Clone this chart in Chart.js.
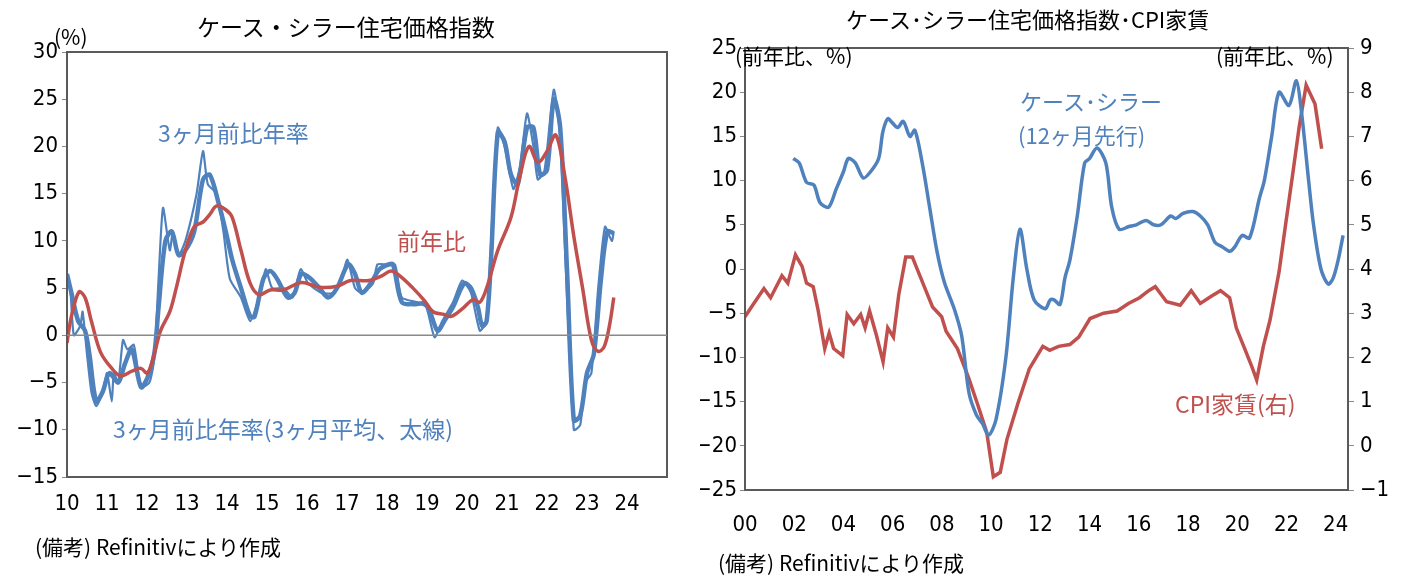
<!DOCTYPE html>
<html><head><meta charset="utf-8">
<script src="https://cdn.jsdelivr.net/npm/chart.js@4"></script>
<style>
body{margin:0;width:1402px;height:584px;background:#fff;position:relative;overflow:hidden;font-family:"Noto Sans CJK JP",sans-serif}
.t{position:absolute;white-space:nowrap;line-height:1}
canvas{position:absolute}
</style></head><body>
<canvas id="c1" style="left:0;top:0"></canvas>
<canvas id="c2" style="left:700px;top:0"></canvas>
<div class="t" style="left:197px;top:15px;font-size:23px">ケース・シラー住宅価格指数</div>
<div class="t" style="left:54px;top:26px;font-size:21px">(%)</div>
<div class="t" style="left:158px;top:121px;font-size:23px;color:#4F81BD">3ヶ月前比年率</div>
<div class="t" style="left:397px;top:229px;font-size:23px;color:#C0504D">前年比</div>
<div class="t" style="left:113px;top:417px;font-size:23px;color:#4F81BD">3ヶ月前比年率(3ヶ月平均、太線)</div>
<div class="t" style="left:35px;top:536px;font-size:21px">(備考) Refinitivにより作成</div>
<div class="t" style="left:846px;top:7px;font-size:22px">ケース･シラー住宅価格指数･CPI家賃</div>
<div class="t" style="left:735px;top:45px;font-size:21px">(前年比、%)</div>
<div class="t" style="left:1216px;top:45px;font-size:21px">(前年比、%)</div>
<div class="t" style="left:1020px;top:89px;font-size:22px;color:#4F81BD">ケース･シラー</div>
<div class="t" style="left:1018px;top:123px;font-size:22px;color:#4F81BD">(12ヶ月先行)</div>
<div class="t" style="left:1175px;top:392px;font-size:23px;color:#C0504D">CPI家賃(右)</div>
<div class="t" style="left:718px;top:552px;font-size:21px">(備考) Refinitivにより作成</div>
<script>
// ---- Left chart data ----
const redYears=[2010.0,2010.11,2010.30,2010.45,2010.61,2010.84,2011.12,2011.34,2011.62,2011.85,2012.01,2012.18,2012.34,2012.57,2012.73,2012.96,2013.18,2013.40,2013.57,2013.74,2013.97,2014.13,2014.35,2014.58,2014.80,2015.08,2015.41,2015.86,2016.31,2016.75,2017.09,2017.54,2017.87,2018.10,2018.32,2018.65,2018.93,2019.15,2019.43,2019.60,2019.88,2020.16,2020.32,2020.49,2020.77,2021.10,2021.33,2021.55,2021.77,2022.00,2022.22,2022.44,2022.67,2022.89,2023.11,2023.28,2023.43,2023.56,2023.67];
const redYoY=[-0.8,2,4.6,4,1.5,-1.8,-3.5,-4.3,-3.8,-3.5,-4,-2,0.5,2.5,5,9,11.5,12,12.8,13.7,13.3,12.5,9,5.5,4.3,4.8,4.8,5.6,5.1,5.2,5.8,5.8,6.3,6.8,6.3,5,3.7,2.5,2.2,2,2.8,3.8,3.5,5,9,12.5,17,20,18.3,19.5,21.2,17,10.5,5,-0.5,-1.7,-1.2,1,4];
const thickYears=[2010.0,2010.11,2010.28,2010.45,2010.56,2010.73,2010.89,2011.06,2011.28,2011.45,2011.62,2011.85,2012.01,2012.18,2012.29,2012.46,2012.62,2012.79,2012.96,2013.18,2013.40,2013.57,2013.79,2013.97,2014.13,2014.35,2014.58,2014.69,2014.91,2015.08,2015.25,2015.52,2015.69,2015.86,2016.09,2016.31,2016.53,2016.75,2017.03,2017.20,2017.37,2017.59,2017.81,2018.04,2018.15,2018.37,2018.65,2018.98,2019.26,2019.43,2019.65,2019.93,2020.10,2020.27,2020.38,2020.49,2020.60,2020.77,2020.94,2021.10,2021.27,2021.50,2021.66,2021.83,2022.00,2022.17,2022.33,2022.50,2022.67,2022.83,2023.00,2023.17,2023.35,2023.51,2023.67];
const thick3m=[6.5,4.5,1.5,0.5,-2,-7,-6,-4,-5,-3,-1.5,-5.5,-4.5,-2,3,10,11,8.5,9,11,16.5,17,14,11,8,5,2,2,6,6.8,6,4,4.5,6.5,6,5,4,5,7.5,6.5,4.5,5.5,7,7.5,7.5,3.5,3.3,3.3,0.5,1.5,3,5.5,5,3,1,1.5,8,21.5,20.5,17,16,22,22,17,17.5,25,22,7,-9,-8.5,-4,-2,6,11,10.8];
const thinYears=[2010.0,2010.08,2010.17,2010.33,2010.39,2010.50,2010.61,2010.73,2010.89,2011.00,2011.12,2011.17,2011.28,2011.40,2011.51,2011.67,2011.85,2012.06,2012.18,2012.29,2012.40,2012.57,2012.65,2012.79,2012.96,2013.24,2013.40,2013.52,2013.74,2013.91,2014.07,2014.35,2014.58,2014.80,2014.97,2015.13,2015.41,2015.64,2015.84,2016.03,2016.36,2016.64,2016.86,2017.01,2017.20,2017.37,2017.65,2017.76,2017.98,2018.20,2018.37,2018.76,2018.98,2019.19,2019.38,2019.65,2019.88,2020.10,2020.32,2020.49,2020.66,2020.77,2020.94,2021.16,2021.33,2021.50,2021.66,2021.77,2021.94,2022.17,2022.33,2022.44,2022.67,2022.83,2022.95,2023.11,2023.28,2023.45,2023.62,2023.67];
const thin3m=[6,5,0,1,2.5,-2,-6,-7.5,-6,-4,-7,-4,-5,-0.5,-1.5,-1,-5.5,-5,-2.5,6,13.5,9,11,8.5,10,15,19.5,16,15,11,6,4,1.5,4,7,5,5,4,7,5.5,4.5,4.5,6,8,5,4.5,5.5,7.5,7.5,7.5,4,3.5,3,-0.2,1.5,3.5,5.8,4.5,0.5,1.5,15,22,20,15.5,18,23.5,20,16.5,17.5,26,21,10,-10,-9.5,-5,-4,5,11.5,10,11];
// ---- Right chart data ----
const csYears=[2001.96,2002.2,2002.5,2002.8,2003.05,2003.4,2003.7,2004.0,2004.2,2004.48,2004.8,2005.1,2005.43,2005.6,2005.8,2006.0,2006.2,2006.43,2006.7,2006.9,2007.2,2007.5,2007.8,2008.1,2008.5,2008.8,2009.1,2009.4,2009.65,2009.9,2010.2,2010.6,2010.9,2011.17,2011.45,2011.75,2012.2,2012.4,2012.56,2012.8,2013.0,2013.2,2013.5,2013.8,2014.0,2014.3,2014.66,2014.9,2015.2,2015.6,2015.9,2016.3,2016.6,2016.9,2017.3,2017.5,2017.8,2018.2,2018.5,2018.8,2019.1,2019.4,2019.7,2019.9,2020.2,2020.5,2020.9,2021.1,2021.4,2021.7,2022.1,2022.4,2022.6,2022.9,2023.1,2023.4,2023.7,2023.9,2024.1,2024.3];
const csLead=[12.5,12,9.8,9.5,7.5,7,9,11,12.5,12,10.3,11,12.5,15.5,17,16.5,16,16.7,15,15.7,12,7,2,-1.5,-4.5,-7.5,-14,-16.5,-17.5,-18.8,-17,-10,-1,4.5,0,-3.5,-4.5,-3.5,-3.5,-4,-1,1,6,12,12.5,13.7,12,7,4.5,4.8,5,5.5,5,5,6,5.7,6.3,6.5,6,5,3,2.5,2,2.5,3.8,3.5,8,10,15,20,18.5,21.3,18,10,5,0,-1.7,-1,1,3.8];
const cpiYears=[2000.0,2000.31,2000.77,2001.04,2001.5,2001.74,2002.05,2002.32,2002.5,2002.77,2002.96,2003.24,2003.42,2003.6,2003.97,2004.15,2004.42,2004.7,2004.88,2005.06,2005.34,2005.61,2005.8,2006.03,2006.25,2006.53,2006.8,2006.98,2007.35,2007.62,2007.99,2008.17,2008.63,2009.09,2009.45,2009.82,2010.09,2010.37,2010.64,2011.1,2011.55,2012.1,2012.38,2012.74,2013.2,2013.56,2014.02,2014.57,2015.12,2015.58,2016.03,2016.4,2016.67,2017.13,2017.68,2018.13,2018.5,2018.96,2019.32,2019.69,2019.96,2020.33,2020.6,2020.79,2021.06,2021.33,2021.7,2021.97,2022.25,2022.52,2022.8,2023.16,2023.43];
const cpiRent=[2.92,3.18,3.56,3.35,3.85,3.68,4.32,4.06,3.68,3.6,3.1,2.2,2.55,2.2,2.04,2.97,2.76,2.97,2.67,3.05,2.5,1.9,2.67,2.46,3.43,4.27,4.27,4.02,3.51,3.14,2.92,2.59,2.2,1.53,0.94,0.31,-0.7,-0.6,0.14,0.98,1.74,2.25,2.16,2.25,2.29,2.46,2.88,3.0,3.05,3.22,3.35,3.51,3.6,3.26,3.18,3.51,3.22,3.39,3.51,3.35,2.67,2.16,1.78,1.49,2.25,2.84,3.94,5.03,6.13,7.23,8.16,7.73,6.72];
const leftTicks=[2010,2011,2012,2013,2014,2015,2016,2017,2018,2019,2020,2021,2022,2023,2024];
const rightTicks=[2000,2002,2004,2006,2008,2010,2012,2014,2016,2018,2020,2022,2024];

const BLUE='#4F81BD', RED='#C0504D', GRAY='#898989';
const pts=(xs,ys)=>xs.map((x,i)=>({x:x,y:ys[i]}));
const tickFont={family:'"DejaVu Sans Condensed","Liberation Sans Narrow",sans-serif',size:22};
const frame={id:'frame',afterDraw(c,a,o){const {ctx,chartArea:ca}=c;ctx.save();ctx.strokeStyle='#5a5a5a';ctx.lineWidth=2;ctx.strokeRect(ca.left,ca.top,ca.right-ca.left,ca.bottom-ca.top);
 if(o.zero){const y=c.scales.y.getPixelForValue(0);ctx.strokeStyle=GRAY;ctx.lineWidth=1.5;ctx.beginPath();ctx.moveTo(ca.left,y);ctx.lineTo(ca.right,y);ctx.stroke();}ctx.restore();}};

function setup(id,w,h){const cv=document.getElementById(id);cv.width=w;cv.height=h;cv.style.width=w+'px';cv.style.height=h+'px';return cv;}

new Chart(setup('c1',700,540),{type:'line',
 data:{datasets:[
  {data:pts(redYears,redYoY),borderColor:RED,borderWidth:3.5,pointRadius:0,tension:0.35},
  {data:pts(thinYears,thin3m),borderColor:BLUE,borderWidth:2.2,pointRadius:0,tension:0.2},
  {data:pts(thickYears,thick3m),borderColor:BLUE,borderWidth:4.5,pointRadius:0,tension:0.3}
 ]},
 options:{responsive:false,animation:false,devicePixelRatio:1,
  layout:{padding:{top:52,right:33}},
  plugins:{legend:{display:false},tooltip:{enabled:false},frame:{zero:true}},
  scales:{
   x:{type:'linear',min:2010,max:2025,afterFit(s){s.height=63;},
      afterBuildTicks(s){s.ticks=leftTicks.map(v=>({value:v}));},
      ticks:{color:'#000',font:tickFont,maxRotation:0,autoSkip:false,padding:6,callback:v=>String(v%100)},
      grid:{display:false},border:{display:false}},
   y:{min:-15,max:30,afterFit(s){s.width=67;},
      ticks:{stepSize:5,color:'#000',font:tickFont,padding:4,callback:v=>v<0?'−'+(-v):String(v)},
      grid:{drawOnChartArea:false,tickLength:5,color:GRAY},border:{display:false}}
  }},
 plugins:[frame]});

new Chart(setup('c2',702,550),{type:'line',
 data:{datasets:[
  {data:pts(csYears,csLead),borderColor:BLUE,borderWidth:3.5,pointRadius:0,tension:0.3,yAxisID:'y'},
  {data:pts(cpiYears,cpiRent),borderColor:RED,borderWidth:3.5,pointRadius:0,tension:0,yAxisID:'y2'}
 ]},
 options:{responsive:false,animation:false,devicePixelRatio:1,
  layout:{padding:{top:48}},
  plugins:{legend:{display:false},tooltip:{enabled:false},frame:{zero:false}},
  scales:{
   x:{type:'linear',min:2000,max:2024.5,afterFit(s){s.height=60;},
      afterBuildTicks(s){s.ticks=rightTicks.map(v=>({value:v}));},
      ticks:{color:'#000',font:tickFont,maxRotation:0,autoSkip:false,padding:14,callback:v=>String(v%100).padStart(2,'0')},
      grid:{display:false},border:{display:false}},
   y:{position:'left',min:-25,max:25,afterFit(s){s.width=45;},
      ticks:{stepSize:5,color:'#000',font:tickFont,padding:3,callback:v=>v<0?'−'+(-v):String(v)},
      grid:{drawOnChartArea:false,tickLength:5,color:GRAY},border:{display:false}},
   y2:{position:'right',min:-1,max:9,afterFit(s){s.width=54;},
      ticks:{stepSize:1,color:'#000',font:tickFont,padding:6,callback:v=>v<0?'−'+(-v):String(v)},
      grid:{drawOnChartArea:false,tickLength:6,color:GRAY},border:{display:false}}
  }},
 plugins:[frame]});
</script></body></html>
